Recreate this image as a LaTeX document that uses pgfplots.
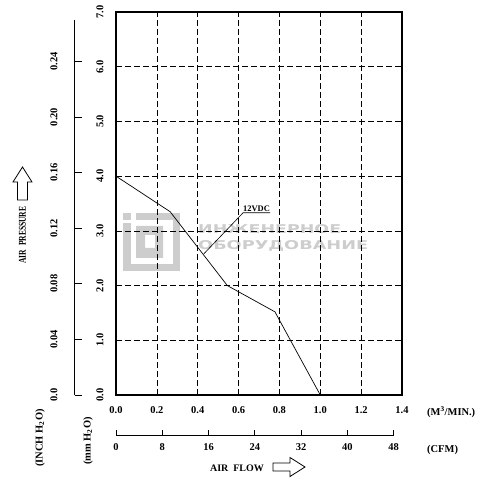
\documentclass[border=0pt]{standalone}
\usepackage{fontspec}
\setmainfont{Liberation Serif}
\newfontfamily\numf{Liberation Serif}
\newfontfamily\wmf{DejaVu Sans}
\usepackage{graphicx}
\usepackage{pgfplots}
\pgfplotsset{compat=1.18}
\newcommand{\nf}{\numf\bfseries\fontsize{10.5}{11}\selectfont}
\newcommand{\tf}{\numf\bfseries\fontsize{10.5}{11}\selectfont}
\definecolor{wm}{RGB}{205,205,205}
\begin{document}
\begin{tikzpicture}
\useasboundingbox (-116bp,-87bp) rectangle (377bp,395bp);
% watermark (background)
\begin{scope}[fill=wm]
\fill (7bp,175bp) rectangle (15bp,182bp);
\fill (7bp,124bp) rectangle (15bp,172bp);
\fill (20bp,175bp) rectangle (64bp,182bp);
\fill (57bp,124bp) rectangle (64bp,182bp);
\fill (14bp,124bp) rectangle (64bp,131bp);
\fill[even odd rule] (20bp,137bp) rectangle (47bp,169bp) (29bp,147bp) rectangle (39bp,160bp);
\end{scope}
\node[anchor=south west, inner sep=0, text=wm] at (82bp,161bp) {\resizebox{143bp}{9bp}{\wmf\bfseries ИНЖЕНЕРНОЕ}};
\node[anchor=south west, inner sep=0, text=wm] at (82bp,143bp) {\resizebox{170bp}{9bp}{\wmf\bfseries ОБОРУДОВАНИЕ}};

\begin{axis}[at={(0,0)}, anchor=south west, scale only axis,
  width=286bp, height=383bp,
  xmin=0, xmax=1.4, ymin=0, ymax=7,
  xtick={0,0.2,0.4,0.6,0.8,1.0,1.2,1.4},
  xticklabels={0.0,0.2,0.4,0.6,0.8,1.0,1.2,1.4},
  ytick={0,1,2,3,4,5,6,7},
  yticklabels={0.0,1.0,2.0,3.0,4.0,5.0,6.0,7.0},
  major tick length=0pt,
  grid=major,
  major grid style={black, line width=0.6bp, dash pattern=on 6bp off 3bp},
  axis line style={black, line width=1.1bp},
  tick label style={font=\nf},
  xticklabel shift=8bp,
  yticklabel style={rotate=90, anchor=south},
  yticklabel shift=9bp,
  clip=false]
\addplot[black, line width=0.7bp] coordinates {(0,4.0) (0.265,3.35) (0.545,2.0) (0.778,1.52) (1.0,0)};
\draw[black, line width=0.6bp] (axis cs:0.43,2.58) -- (axis cs:0.622,3.33) -- (axis cs:0.755,3.33);
\node[anchor=south, inner sep=1bp, font=\numf\bfseries\fontsize{8.5}{9}\selectfont] at (axis cs:0.688,3.33) {12VDC};
\end{axis}

% inch H2O axis
\begin{axis}[at={(-41bp,0)}, anchor=south west, scale only axis,
  width=10bp, height=375.2bp,
  xmin=0, xmax=1, ymin=0, ymax=0.27,
  axis y line=left, axis x line=none,
  axis line style={-, black, line width=1bp},
  every outer y axis line/.append style={-},
  ytick={0,0.04,0.08,0.12,0.16,0.2,0.24},
  yticklabels={0.0,0.04,0.08,0.12,0.16,0.20,0.24},
  tick align=inside, major tick length=7bp,
  tick style={black, line width=1bp},
  yticklabel style={rotate=90, anchor=south, font=\nf},
  yticklabel shift=14bp]
\end{axis}

% CFM axis
\begin{axis}[at={(0,-40bp)}, anchor=south west, scale only axis,
  width=277.7bp, height=10bp,
  xmin=0, xmax=48, ymin=0, ymax=1,
  axis x line=bottom, axis y line=none,
  axis line style={-, black, line width=1bp},
  every outer x axis line/.append style={-},
  xtick={0,8,16,24,32,40,48},
  xticklabels={0,8,16,24,32,40,48},
  tick align=inside, major tick length=5bp,
  tick style={black, line width=1bp},
  xticklabel style={font=\nf},
  xticklabel shift=5bp]
\end{axis}

% labels
\node[anchor=west, inner sep=0, font=\tf] at (311bp,-17.5bp) {(M\textsuperscript{3}/MIN.)};
\node[anchor=west, inner sep=0, font=\tf] at (311bp,-55bp) {(CFM)};
\node[inner sep=0, font=\tf\fontsize{10}{11}\selectfont] at (121bp,-73bp) {AIR\ \ FLOW};
\draw[line width=0.8bp] (157bp,-68bp) -- (174bp,-68bp) -- (174bp,-62.5bp) -- (189bp,-72bp) -- (174bp,-81.5bp) -- (174bp,-76bp) -- (157bp,-76bp) -- cycle;
\node[inner sep=0, rotate=90] at (-93.5bp,160bp) {\scalebox{0.72}[1]{\numf\bfseries\fontsize{10.5}{11}\selectfont AIR\ \ PRESSURE}};
\draw[line width=0.8bp] (-98.5bp,195bp) -- (-98.5bp,213bp) -- (-103bp,213bp) -- (-93.5bp,228bp) -- (-84bp,213bp) -- (-88.5bp,213bp) -- (-88.5bp,195bp) -- cycle;
\node[inner sep=0, rotate=90, font=\tf] at (-76bp,-43bp) {(INCH H\textsubscript{2}O)};
\node[inner sep=0, rotate=90, font=\tf] at (-28bp,-46bp) {(mm H\textsubscript{2}O)};
\end{tikzpicture}
\end{document}
